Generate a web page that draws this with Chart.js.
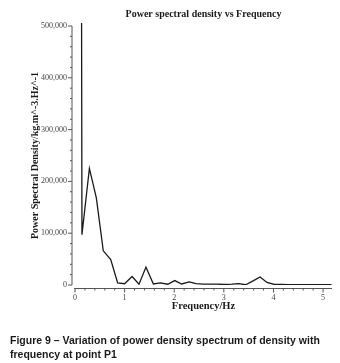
<!DOCTYPE html>
<html>
<head>
<meta charset="utf-8">
<script src="https://cdn.jsdelivr.net/npm/chart.js@4.4.1/dist/chart.umd.min.js"></script>
<style>
  html, body { margin: 0; padding: 0; background: #fff; }
  #wrap { width: 340px; height: 363px; position: relative; }
</style>
</head>
<body>
<div id="wrap"><canvas id="psd"></canvas></div>
<script>
// spectrum (first bin is off the scale)
const freqs = [0, 0.14, 0.29, 0.43, 0.57, 0.72, 0.86, 1.00, 1.15, 1.29, 1.43, 1.58, 1.72,
    1.87, 2.01, 2.15, 2.30, 2.44, 2.58, 2.73, 2.87, 3.01, 3.16, 3.30, 3.44, 3.59, 3.73,
    3.87, 4.02, 4.16, 4.30, 4.45, 4.59, 4.74, 4.88, 5.02, 5.17];
const psd = [8000000, 97000, 225000, 168000, 66000, 49000, 4000, 2500, 16500, 1500, 34500,
    2000, 4000, 1500, 8500, 2000, 6000, 2500, 1500, 1500, 1500, 1000, 1500, 2500, 500,
    8000, 15500, 5000, 1000, 1000, 500, 500, 500, 500, 500, 500, 500];
const xTicks = [0, 1, 2, 3, 4, 5];
const yTicks = [0, 100000, 200000, 300000, 400000, 500000];

const serif = '"Liberation Serif", "Times New Roman", serif';

// axis lines + ticks drawn a few px away from the plot, like the original
const axesFrame = {
    id: 'axesFrame',
    afterDraw(chart) {
        const { ctx, chartArea: { left, right, bottom }, scales: { x, y } } = chart;
        ctx.save();
        ctx.strokeStyle = '#555';
        ctx.lineWidth = 1;

        // y axis
        const ax = left - 3;
        ctx.beginPath();
        ctx.moveTo(ax, y.getPixelForValue(yTicks[yTicks.length - 1]));
        ctx.lineTo(ax, y.getPixelForValue(0));
        for (let i = 0; i < yTicks.length; i++) {
            const py = y.getPixelForValue(yTicks[i]);
            ctx.moveTo(ax - 4, py);
            ctx.lineTo(ax, py);
            if (i < yTicks.length - 1) {
                const step = (yTicks[i + 1] - yTicks[i]) / 5;
                for (let k = 1; k < 5; k++) {
                    const my = y.getPixelForValue(yTicks[i] + k * step);
                    ctx.moveTo(ax - 2, my);
                    ctx.lineTo(ax, my);
                }
            }
        }
        ctx.stroke();

        // x axis
        const ay = bottom + 3.5;
        ctx.beginPath();
        ctx.moveTo(x.getPixelForValue(0) - 1, ay);
        ctx.lineTo(right, ay);
        for (let i = 0; i < xTicks.length; i++) {
            const px = x.getPixelForValue(xTicks[i]);
            ctx.moveTo(px, ay);
            ctx.lineTo(px, ay + 4);
            const step = 0.2;
            for (let k = 1; k < 5; k++) {
                const mx = x.getPixelForValue(xTicks[i] + k * step);
                if (mx > right) break;
                ctx.moveTo(mx, ay);
                ctx.lineTo(mx, ay + 2);
            }
        }
        ctx.stroke();

        // figure caption
        ctx.fillStyle = '#1a1a1a';
        ctx.font = 'bold 10.5px "Liberation Sans", Arial, sans-serif';
        ctx.textAlign = 'left';
        ctx.textBaseline = 'alphabetic';
        ctx.fillText('Figure 9 \u2013 Variation of power density spectrum of density with', 10, 344);
        ctx.fillText('frequency at point P1', 10, 357.5);
        ctx.restore();
    }
};

const dataPsd = {
    datasets: [{
        data: freqs.map((f, i) => ({ x: f, y: psd[i] })),
        borderColor: '#1a1a1a',
        borderWidth: 1.3,
        pointRadius: 0,
        tension: 0,
        clip: { left: 0, top: 3, right: 0, bottom: 0 }
    }]
};

const configPsd = {
    type: 'line',
    data: dataPsd,
    options: {
        responsive: true,
        maintainAspectRatio: false,
        animation: false,
        layout: { padding: { left: 0, right: 8, top: 0, bottom: 48 } },
        scales: {
            x: {
                type: 'linear',
                min: 0,
                max: 5.18,
                afterBuildTicks: (scale) => { scale.ticks = xTicks.map(v => ({ value: v })); },
                afterFit: (scale) => { scale.height = 30; },
                grid: { display: false, drawTicks: false, tickLength: 0 },
                border: { display: false },
                ticks: { padding: 8, color: '#444', font: { family: serif, size: 8 }, maxRotation: 0 },
                title: {
                    display: true,
                    text: 'Frequency/Hz',
                    color: '#1a1a1a',
                    font: { family: serif, size: 10.5, weight: 'bold' },
                    padding: { top: 0, bottom: 2 }
                }
            },
            y: {
                min: 0,
                max: 500000,
                afterBuildTicks: (scale) => { scale.ticks = yTicks.map(v => ({ value: v })); },
                afterFit: (scale) => { scale.width = 75; },
                grid: { display: false, drawTicks: false, tickLength: 0 },
                border: { display: false },
                ticks: { padding: 8, color: '#444', font: { family: serif, size: 8 } },
                title: {
                    display: true,
                    text: 'Power Spectral Density/kg.m^-3.Hz^-1',
                    color: '#1a1a1a',
                    font: { family: serif, size: 10, weight: 'bold' },
                    padding: { top: 29, bottom: 0 }
                }
            }
        },
        plugins: {
            legend: { display: false },
            tooltip: { enabled: false },
            title: {
                display: true,
                fullSize: false,
                text: 'Power spectral density vs Frequency',
                color: '#1a1a1a',
                font: { family: serif, size: 10, weight: 'bold' },
                padding: { top: 8, bottom: 6 }
            }
        }
    },
    plugins: [axesFrame]
};

const psdChart = new Chart(document.getElementById('psd'), configPsd);
</script>
</body>
</html>
